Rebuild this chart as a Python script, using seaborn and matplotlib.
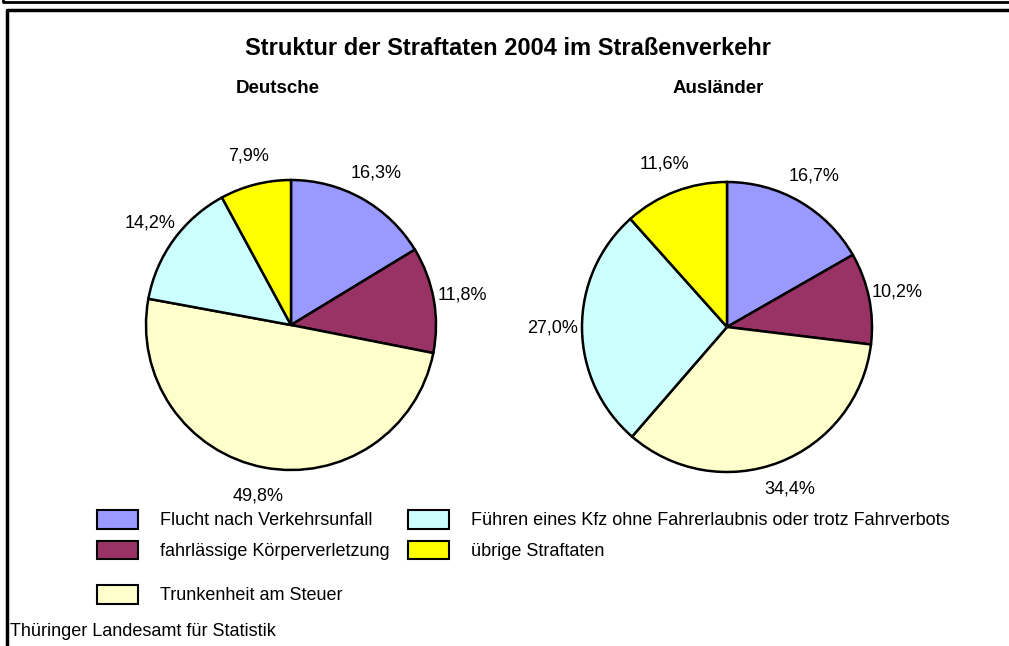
import matplotlib
matplotlib.use("Agg")
import matplotlib.pyplot as plt
import seaborn as sns
from matplotlib.patches import Patch
from matplotlib.lines import Line2D

categories = [
    "Flucht nach Verkehrsunfall",
    "fahrlässige Körperverletzung",
    "Trunkenheit am Steuer",
    "Führen eines Kfz ohne Fahrerlaubnis oder trotz Fahrverbots",
    "übrige Straftaten",
]
deutsche = [16.3, 11.8, 49.8, 14.2, 7.9]
auslaender = [16.7, 10.2, 34.4, 27.0, 11.6]
groups = ["Deutsche", "Ausländer"]
title = "Struktur der Straftaten 2004 im Straßenverkehr"
source = "Thüringer Landesamt für Statistik"

sns.set_theme(style="white")
plt.rcParams["font.family"] = ["Liberation Sans", "DejaVu Sans"]
plt.rcParams["text.color"] = "black"
colors = sns.color_palette(["#9999FF", "#993366", "#FFFFCC", "#CCFFFF", "#FFFF00"])

W, H = 1009, 646
fig = plt.figure(figsize=(W / 100, H / 100), dpi=100)
fig.patch.set_facecolor("white")


def fx(px):
    return px / W


def fy(py):
    return 1 - py / H


# frames
for xs, ys, lw in [([3, 3, W], [0, 1.5, 1.5], 2.0), ([7, 7, W], [H, 9.5, 9.5], 2.5)]:
    fig.add_artist(Line2D([fx(x) for x in xs], [fy(y) for y in ys],
                          transform=fig.transFigure, color="black", lw=lw))

fig.text(fx(508), fy(55), title, ha="center", va="baseline",
         fontsize=17, fontweight="bold")

centers = [(291, 325), (727, 327)]
r = 145
for (cx, cy), name, vals, tx in zip(centers, groups, [deutsche, auslaender], [278, 718]):
    ax = fig.add_axes([fx(cx - r), fy(cy + r), (2 * r) / W, (2 * r) / H])
    ax.pie(vals, colors=colors, startangle=90, counterclock=False,
           autopct=lambda p: f"{p:.1f}%".replace(".", ","), pctdistance=1.2,
           wedgeprops=dict(edgecolor="black", linewidth=1.8),
           textprops=dict(fontsize=13, color="black"))
    ax.set_xlim(-1, 1)
    ax.set_ylim(-1, 1)
    ax.axis("off")
    fig.text(fx(tx), fy(93), name, ha="center", va="baseline",
             fontsize=13.5, fontweight="bold")

handles = [Patch(facecolor=c, edgecolor="black", linewidth=1.5) for c in colors]
fs = 13
kw = dict(frameon=False, fontsize=fs, handlelength=2.28, handleheight=1.22,
          handletextpad=1.22, borderpad=0, borderaxespad=0, loc="upper left",
          labelspacing=0.62)
for idx, (px, py) in [([0, 1], (97, 510)), ([3, 4], (408, 510)), ([2], (97, 585))]:
    fig.legend([handles[i] for i in idx], [categories[i] for i in idx],
               bbox_to_anchor=(fx(px), fy(py)), **kw)

fig.text(fx(10), fy(632), source, ha="left", va="center", fontsize=13)

fig.savefig("out.png", dpi=100)
